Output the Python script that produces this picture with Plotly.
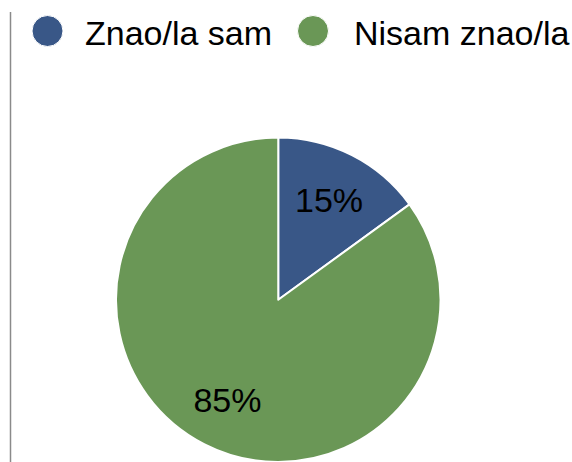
import plotly.graph_objects as go

labels = ["Znao/la sam", "Nisam znao/la"]
values = [15, 85]
colors = ["#395787", "#6A9756"]

W, H = 572, 462
FONT = "Liberation Sans, Arial, Helvetica, sans-serif"
DOMAIN = dict(x=[115 / W, 441.5 / W], y=[0, 1 - 137.5 / H])

fig = go.Figure()
# filled slices
fig.add_trace(go.Pie(
    labels=labels,
    values=values,
    marker=dict(colors=colors, line=dict(color="white", width=2)),
    sort=False,
    direction="clockwise",
    rotation=0,
    textinfo="none",
    showlegend=False,
    hoverinfo="label+percent",
    domain=DOMAIN,
))
# percentage labels, laid out in an outer ring of the same slices
fig.add_trace(go.Pie(
    labels=labels,
    values=values,
    hole=0.38,
    marker=dict(colors=["rgba(0,0,0,0)"] * len(values), line=dict(width=0)),
    sort=False,
    direction="clockwise",
    rotation=0,
    texttemplate="%{percent:.0%}",
    textposition="inside",
    insidetextorientation="horizontal",
    textfont=dict(family=FONT, size=34, color="black"),
    showlegend=False,
    hoverinfo="skip",
    domain=DOMAIN,
))

def px(x):
    return x / W

def py(y):
    return 1 - y / H

shapes = [
    dict(type="line", xref="paper", yref="paper", x0=px(10.5), x1=px(10.5),
         y0=py(12), y1=py(462), line=dict(color="#8a8a8a", width=1.5)),
]
legend_pos = [(47.5, 31, 83), (313, 31, 352)]
annotations = []
for (cx, cy, tx), lab, col in zip(legend_pos, labels, colors):
    shapes.append(dict(type="circle", xref="paper", yref="paper",
                       x0=px(cx - 15.5), x1=px(cx + 15.5), y0=py(cy - 15.5), y1=py(cy + 15.5),
                       fillcolor=col, line=dict(color="white", width=1)))
    annotations.append(dict(text=lab, xref="paper", yref="paper", x=px(tx), y=py(32.5),
                            xanchor="left", yanchor="middle", showarrow=False,
                            font=dict(family=FONT, size=34, color="black")))

fig.update_layout(
    width=W, height=H,
    margin=dict(l=0, r=0, t=0, b=0),
    paper_bgcolor="white",
    plot_bgcolor="white",
    shapes=shapes,
    annotations=annotations,
)
fig.write_html(
    "out.html",
    config={"displayModeBar": False},
    post_script="document.body.style.margin='0';document.body.style.overflow='hidden';",
)
